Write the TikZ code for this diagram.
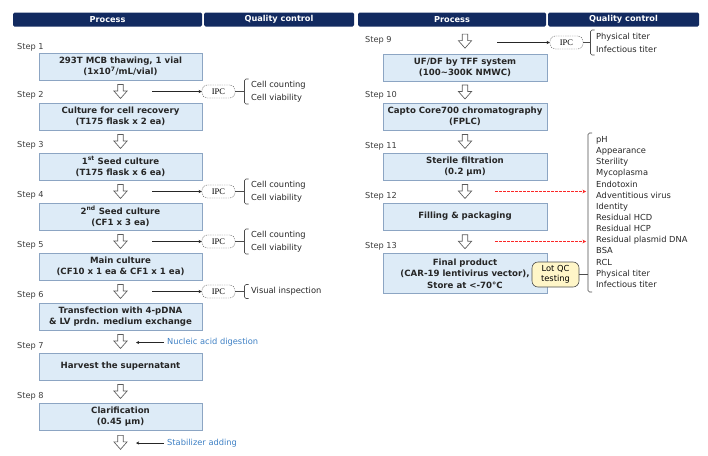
\documentclass[tikz,border=0pt]{standalone}
\usepackage{fontspec}
\setmainfont{DejaVu Sans}
\newfontfamily\ipcfont{Liberation Serif}
\usetikzlibrary{arrows.meta,calc}
\definecolor{navy}{RGB}{18,42,96}
\definecolor{boxfill}{RGB}{221,235,247}
\definecolor{boxline}{RGB}{140,165,195}
\definecolor{bluetxt}{RGB}{62,128,196}
\definecolor{redarr}{RGB}{250,40,40}
\definecolor{lotfill}{RGB}{255,246,200}
\definecolor{steptxt}{RGB}{60,60,60}
\tikzset{
  hdr/.style={fill=navy, rounded corners=1.5pt, text=white, font=\bfseries\fontsize{8.2}{9}\selectfont, minimum height=14pt, inner sep=0pt},
  procbox/.style={draw=boxline, fill=boxfill, line width=0.7pt, align=center, font=\bfseries\fontsize{8.6}{11.5}\selectfont, minimum height=27pt, inner sep=1pt, text=black!85},
  stepl/.style={anchor=west, font=\fontsize{8.2}{9}\selectfont, text=steptxt, inner sep=0pt},
  ipcbox/.style={draw=black!60, dash pattern=on 1.4pt off 0.9pt, rounded corners=5pt, minimum width=33pt, minimum height=13pt, inner sep=0pt, font=\ipcfont\fontsize{8.5}{9}\selectfont, fill=white},
  qctxt/.style={anchor=west, align=left, font=\fontsize{8.3}{13}\selectfont, inner sep=0pt, text=black!85},
  feed/.style={draw=black!85, line width=0.55pt, -{Stealth[length=3.2pt,width=3.2pt]}},
  plainln/.style={draw=black!70, line width=0.5pt},
  brk/.style={draw=black!70, line width=0.6pt, rounded corners=1.5pt},
  hollow/.style={draw=black!65, fill=white, line width=0.65pt, line join=miter},
  downarr/.pic={\draw[hollow] (-2.7,-7) -- (2.7,-7) -- (2.7,-0.5) -- (6.6,-0.5) -- (0,7) -- (-6.6,-0.5) -- (-2.7,-0.5) -- cycle;},
  addtxt/.style={anchor=west, font=\fontsize{8.3}{9}\selectfont, text=bluetxt, inner sep=0pt},
  redfeed/.style={draw=redarr, line width=1pt, dash pattern=on 2.5pt off 1.5pt, -{Stealth[length=3.5pt,width=3.5pt]}},
  lotqc/.style={draw=black!70, fill=lotfill, rounded corners=6pt, line width=0.6pt, align=center, font=\fontsize{8.3}{10.5}\selectfont, minimum width=47pt, minimum height=25pt, inner sep=0pt}
}
\begin{document}
\begin{tikzpicture}[x=1pt,y=-1pt]
\useasboundingbox (0,0) rectangle (708,455);
% headers
\node[hdr, minimum width=189pt] (hp1) at (107.5,19.5) {Process};
\node[hdr, minimum width=150pt] (hq1) at (279,19.5) {Quality control};
\node[hdr, minimum width=188pt] (hp2) at (452,19.5) {Process};
\node[hdr, minimum width=151pt] (hq2) at (623.5,19.5) {Quality control};
% left process boxes
\node[procbox, minimum width=163pt] (b1) at (120.5,66.5) {293T MCB thawing, 1 vial\\(1x10\textsuperscript{7}/mL/vial)};
\node[procbox, minimum width=163pt] (b2) at (120.5,116.5) {Culture for cell recovery\\(T175 flask x 2 ea)};
\node[procbox, minimum width=163pt] (b3) at (120.5,166.5) {1\textsuperscript{st} Seed culture\\(T175 flask x 6 ea)};
\node[procbox, minimum width=163pt] (b4) at (120.5,216.5) {2\textsuperscript{nd} Seed culture\\(CF1 x 3 ea)};
\node[procbox, minimum width=163pt] (b5) at (120.5,266.5) {Main culture\\(CF10 x 1 ea \& CF1 x 1 ea)};
\node[procbox, minimum width=163pt] (b6) at (120.5,316.5) {Transfection with 4-pDNA\\\& LV prdn. medium exchange};
\node[procbox, minimum width=163pt] (b7) at (120.5,366.5) {Harvest the supernatant};
\node[procbox, minimum width=163pt] (b8) at (120.5,416.5) {Clarification\\(0.45 µm)};
% right process boxes
\node[procbox, minimum width=164pt] (b9) at (465,67.5) {UF/DF by TFF system\\(100\textasciitilde 300K NMWC)};
\node[procbox, minimum width=164pt] (b10) at (465,116.5) {Capto Core700 chromatography\\(FPLC)};
\node[procbox, minimum width=164pt] (b11) at (465,166.5) {Sterile filtration\\(0.2 µm)};
\node[procbox, minimum width=164pt] (b12) at (465,216.5) {Filling \& packaging};
\node[procbox, minimum width=164pt, minimum height=40pt] (b13) at (465,273.5) {Final product\\(CAR-19 lentivirus vector),\\Store at <-70°C};
% gap coordinates
\path (b1.south) -- (b2.north) coordinate[midway] (g2);
\path (b2.south) -- (b3.north) coordinate[midway] (g3);
\path (b3.south) -- (b4.north) coordinate[midway] (g4);
\path (b4.south) -- (b5.north) coordinate[midway] (g5);
\path (b5.south) -- (b6.north) coordinate[midway] (g6);
\path (b6.south) -- (b7.north) coordinate[midway] (g7);
\path (b7.south) -- (b8.north) coordinate[midway] (g8);
\coordinate (g8b) at ($(b8.south)+(0,12)$);
\coordinate (g9) at ($(b9.north)+(0,-12.5)$);
\path (b9.south) -- (b10.north) coordinate[midway] (g10);
\path (b10.south) -- (b11.north) coordinate[midway] (g11);
\path (b11.south) -- (b12.north) coordinate[midway] (g12);
\path (b12.south) -- (b13.north) coordinate[midway] (g13);
\foreach \g in {g2,g3,g4,g5,g6,g7,g8,g8b,g9,g10,g11,g12,g13} {\pic at (\g) {downarr};}
% step labels
\node[stepl] (s1) at (17,47) {Step 1};
\node[stepl] (s2) at (17,95) {Step 2};
\node[stepl] (s3) at (17,145) {Step 3};
\node[stepl] (s4) at (17,195.5) {Step 4};
\node[stepl] (s5) at (17,245.5) {Step 5};
\node[stepl] (s6) at (17,295.5) {Step 6};
\node[stepl] (s7) at (17,346) {Step 7};
\node[stepl] (s8) at (17,396) {Step 8};
\node[stepl] (s9) at (365,40) {Step 9};
\node[stepl] (s10) at (365,95.5) {Step 10};
\node[stepl] (s11) at (365,146) {Step 11};
\node[stepl] (s12) at (365,196) {Step 12};
\node[stepl] (s13) at (365,246) {Step 13};
% left IPCs
\foreach \n/\yy in {2/91.5,4/191.5,5/241.5,6/291.5} {
  \node[ipcbox] (ipc\n) at (218.5,\yy) {IPC};
  \coordinate (fs\n) at (152,\yy);
  \coordinate (k\n) at (244.5,\yy);
  \draw[feed] (fs\n) -- (ipc\n.west);
  \draw[plainln] (ipc\n.east) -- (k\n);
}
\foreach \n/\yy in {2/91.5,4/191.5,5/241.5} {
  \draw[brk] (248.5,\yy-12.5) -- (244.5,\yy-12.5) -- (244.5,\yy+12.5) -- (248.5,\yy+12.5);
  \node[qctxt] (q\n) at (251,\yy) {Cell counting\\Cell viability};
}
\draw[brk] (248.5,284.5) -- (244.5,284.5) -- (244.5,298.5) -- (248.5,298.5);
\node[qctxt] (q6) at (251,291.5) {Visual inspection};
% additions
\node[addtxt] (nad) at (167,342.5) {Nucleic acid digestion};
\coordinate (nadt) at (136,342.5);
\draw[feed, shorten <=3pt] (nad.west) -- (nadt);
\node[addtxt] (stab) at (167,443) {Stabilizer adding};
\coordinate (stabt) at (136,443);
\draw[feed, shorten <=3pt] (stab.west) -- (stabt);
% right IPC
\node[ipcbox] (ipc9) at (566.5,42.5) {IPC};
\coordinate (fs9) at (497,42.5);
\coordinate (k9) at (590.5,42.5);
\draw[feed] (fs9) -- (ipc9.west);
\draw[plainln] (ipc9.east) -- (k9);
\draw[brk] (594.5,30) -- (590.5,30) -- (590.5,55) -- (594.5,55);
\node[qctxt] (q9) at (596,42.5) {Physical titer\\Infectious titer};
% lot QC list
\draw[brk] (592,133) -- (588,133) -- (588,292) -- (592,292);
\node[qctxt, font=\fontsize{8.3}{11.15}\selectfont] (qlist) at (596,212) {pH\\Appearance\\Sterility\\Mycoplasma\\Endotoxin\\Adventitious virus\\Identity\\Residual HCD\\Residual HCP\\Residual plasmid DNA\\BSA\\RCL\\Physical titer\\Infectious titer};
\coordinate (r1s) at (495,191.5);
\coordinate (r1e) at (586,191.5);
\coordinate (r2s) at (495,241.5);
\coordinate (r2e) at (586,241.5);
\draw[redfeed] (r1s) -- (r1e);
\draw[redfeed] (r2s) -- (r2e);
\node[lotqc] (lot) at (555.5,274.5) {Lot QC\\testing};
\coordinate (klot) at (588,274.5);
\draw[plainln] (lot.east) -- (klot);
\end{tikzpicture}
\end{document}
